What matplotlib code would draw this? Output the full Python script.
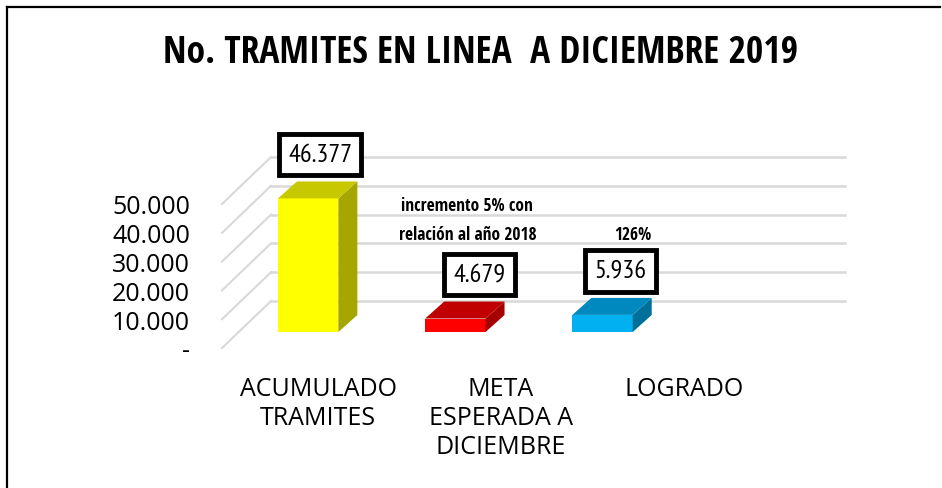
import matplotlib
matplotlib.use('Agg')
import matplotlib.pyplot as plt
from matplotlib.patches import Polygon
from matplotlib.lines import Line2D
from matplotlib.transforms import offset_copy, IdentityTransform
import numpy as np

# datos
categorias = ['ACUMULADO\nTRAMITES', 'META\nESPERADA A\nDICIEMBRE', 'LOGRADO']
valores = [46377, 4679, 5936]
ticks = [0, 10000, 20000, 30000, 40000, 50000]
tick_labels = ['-', '10.000', '20.000', '30.000', '40.000', '50.000']
titulo = 'No. TRAMITES EN LINEA  A DICIEMBRE 2019'
nota_meta = 'incremento 5% con\nrelación al año 2018'
nota_logrado = '126%'

frente = ['#FFFF00', '#FF0000', '#00B0F0']
lado = ['#A6A600', '#A50000', '#00709A']
techo = ['#C8C800', '#C00000', '#0089BE']

negrita = ['Open Sans Condensed', 'DejaVu Sans']
angosta = ['PT Sans Narrow', 'DejaVu Sans']
normal = ['Open Sans', 'DejaVu Sans']

W, H = 942, 489
fig = plt.figure(figsize=(W / 100, H / 100), dpi=100)
ax = fig.add_axes([222 / W, (H - 349) / H, (796 - 222) / W, (349 - 205) / H])
ax.set_xlim(-0.47, 3.43)
ax.set_ylim(0, 50000)
ax.axis('off')

prof = np.array([49, 47])      # profundidad del piso
desp = np.array([17, 16])      # cara frontal de las barras
fondo = np.array([19, 17])     # grosor de las barras
ancho = 0.41
caja_dx = [12, 24, 18]         # corrimiento de las cajas de valor


def disp(x, y):
    return ax.transData.transform((x, y))


x0, x1 = ax.get_xlim()
for v, lab in zip(ticks, tick_labels):
    a = disp(x0, v)
    b = disp(x1, v)
    ax.add_line(Line2D([a[0], a[0] + prof[0]], [a[1], a[1] + prof[1]], transform=IdentityTransform(),
                       color='#D9D9D9', lw=1.5, clip_on=False, zorder=1))
    ax.add_line(Line2D([a[0] + prof[0], b[0] + prof[0]], [a[1] + prof[1], b[1] + prof[1]],
                       transform=IdentityTransform(), color='#D9D9D9', lw=1.8, clip_on=False, zorder=1))
    ax.annotate(lab, xy=(x0, v), xytext=(-32, -3), textcoords='offset pixels', ha='right', va='center',
                fontsize=18, family=normal, annotation_clip=False)

trans_barra = offset_copy(ax.transData, fig=fig, x=desp[0], y=desp[1], units='dots')
x = np.arange(len(valores))
ax.bar(x, valores, width=ancho, color=frente, transform=trans_barra, clip_on=False, zorder=3)

for i, v in enumerate(valores):
    br = disp(i + ancho / 2, 0) + desp
    tl = disp(i - ancho / 2, v) + desp
    tr = disp(i + ancho / 2, v) + desp
    ax.add_patch(Polygon([br, tr, tr + fondo, br + fondo], closed=True, transform=IdentityTransform(),
                         facecolor=lado[i], edgecolor='none', clip_on=False, zorder=3))
    ax.add_patch(Polygon([tl, tr, tr + fondo, tl + fondo], closed=True, transform=IdentityTransform(),
                         facecolor=techo[i], edgecolor='none', clip_on=False, zorder=3))
    ax.annotate(f'{v:,}'.replace(',', '.'), xy=(i, v), xycoords=trans_barra, xytext=(caja_dx[i], 44),
                textcoords='offset pixels', ha='center', va='center', fontsize=19, family=angosta,
                bbox=dict(boxstyle='square,pad=0.35', fc='white', ec='black', lw=3.5),
                annotation_clip=False, zorder=5)

ax.annotate(nota_meta, xy=(1, valores[1]), xycoords=trans_barra, xytext=(12, 99),
            textcoords='offset pixels', ha='center', va='center', fontsize=12.5, fontweight='bold',
            family=negrita, linespacing=1.75, annotation_clip=False)
ax.annotate(nota_logrado, xy=(2, valores[2]), xycoords=trans_barra, xytext=(30, 81),
            textcoords='offset pixels', ha='center', va='center', fontsize=12.5, fontweight='bold',
            family=negrita, annotation_clip=False)

for i, c in enumerate(categorias):
    fig.text((318 + 183 * i) / W, 1 - 377 / H, c, ha='center', va='top', fontsize=18,
             family=normal, linespacing=1.2)

fig.text(481 / W, 1 - 53 / H, titulo, ha='center', va='center', fontsize=27, fontweight='bold',
         family=negrita)

fig.add_artist(Line2D([7 / W, 7 / W], [0, 1 - 8 / H], transform=fig.transFigure, color='black', lw=1.6))
fig.add_artist(Line2D([7 / W, 940 / W], [1 - 8 / H, 1 - 8 / H], transform=fig.transFigure, color='black', lw=1.6))

fig.savefig('out.png', dpi=100)
